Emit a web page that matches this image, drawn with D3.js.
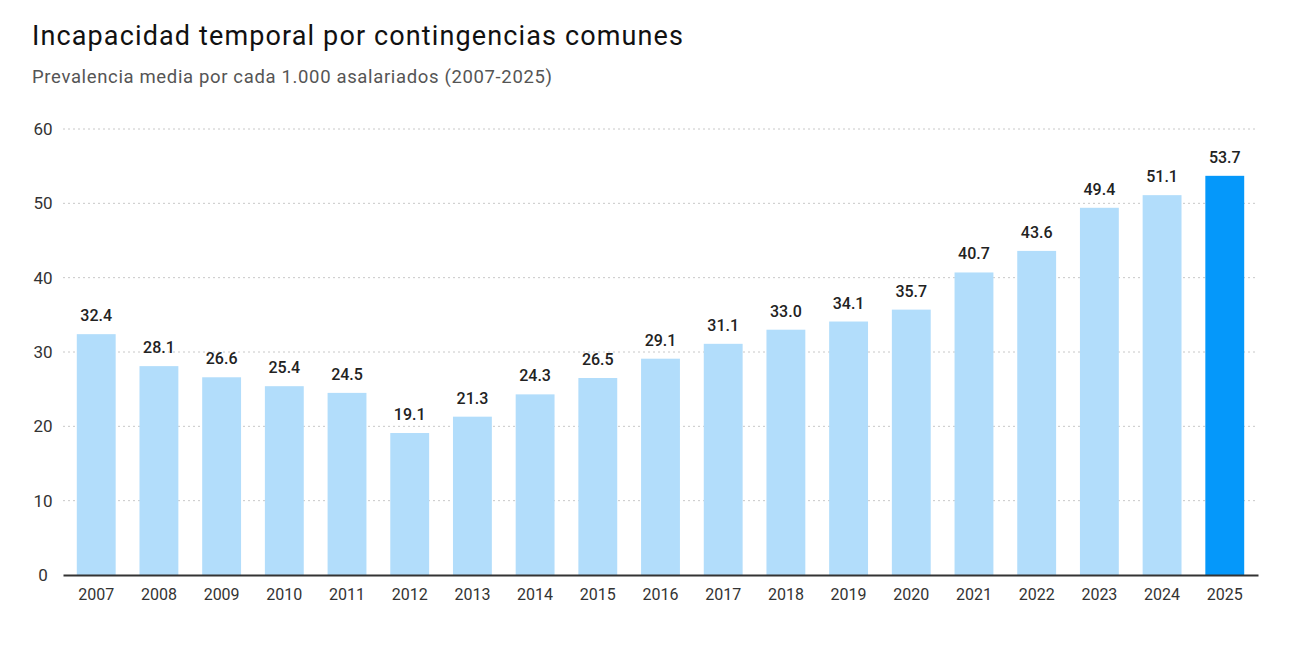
<!DOCTYPE html>
<html>
<head>
<meta charset="utf-8">
<script src="https://cdn.jsdelivr.net/npm/d3@7"></script>
<style>
  body { margin: 0; background: #fff; }
  svg { display: block; font-family: Roboto, "Noto Sans", sans-serif; }
</style>
</head>
<body>
<div id="container"></div>
<script>
"use strict";

const years = ["2007", "2008", "2009", "2010", "2011", "2012", "2013", "2014", "2015", "2016",
  "2017", "2018", "2019", "2020", "2021", "2022", "2023", "2024", "2025"];
const values = [32.4, 28.1, 26.6, 25.4, 24.5, 19.1, 21.3, 24.3, 26.5, 29.1,
  31.1, 33.0, 34.1, 35.7, 40.7, 43.6, 49.4, 51.1, 53.7];
const yTicks = [0, 10, 20, 30, 40, 50, 60];
const highlightYear = "2025";

const title = "Incapacidad temporal por contingencias comunes";
const subtitle = "Prevalencia media por cada 1.000 asalariados (2007-2025)";

const width = 1289;
const height = 647;
const margin = { top: 129, right: 31, bottom: 72, left: 63 };

const data = years.map((y, i) => ({ key: y, value: values[i] }));

const svg = d3.create("svg").attr("width", width).attr("height", height);

const x = d3.scaleBand()
  .domain(years)
  .range([margin.left, width - margin.right])
  .paddingInner(0.38)
  .paddingOuter(0.22);

const y = d3.scaleLinear()
  .domain([0, 60])
  .range([height - margin.bottom, margin.top]);

// Title and subtitle. The original font is wider than Roboto, so stretch a little.
svg.append("text")
  .attr("x", 32)
  .attr("y", 45)
  .attr("textLength", 651)
  .attr("lengthAdjust", "spacing")
  .style("font-size", "27px")
  .style("fill", "#111")
  .text(title);

svg.append("text")
  .attr("x", 32)
  .attr("y", 83)
  .attr("textLength", 520)
  .attr("lengthAdjust", "spacing")
  .style("font-size", "18.5px")
  .style("fill", "#555")
  .text(subtitle);

// Grid lines.
svg.append("g")
  .selectAll("line")
  .data(yTicks.filter((d) => d !== 0))
  .join("line")
  .attr("x1", margin.left)
  .attr("x2", width - margin.right)
  .attr("y1", (d) => y(d))
  .attr("y2", (d) => y(d))
  .attr("stroke", "#c8c8c8")
  .attr("stroke-width", 1)
  .attr("stroke-dasharray", "2,3");

// Y labels.
svg.append("g")
  .selectAll("text")
  .data(yTicks)
  .join("text")
  .attr("x", 43)
  .attr("y", (d) => y(d))
  .attr("dy", "0.35em")
  .attr("text-anchor", "middle")
  .style("font-size", "17px")
  .style("fill", "#333")
  .text((d) => d);

// Bars.
svg.append("g")
  .selectAll("rect")
  .data(data)
  .join("rect")
  .attr("x", (d) => x(d.key))
  .attr("y", (d) => y(d.value))
  .attr("width", x.bandwidth())
  .attr("height", (d) => y(0) - y(d.value))
  .attr("fill", (d) => (d.key === highlightYear ? "#0598fa" : "#b2ddfb"));

// Value labels.
svg.append("g")
  .selectAll("text")
  .data(data)
  .join("text")
  .attr("x", (d) => x(d.key) + x.bandwidth() / 2)
  .attr("y", (d) => y(d.value) - 13)
  .attr("text-anchor", "middle")
  .style("font-size", "16px")
  .style("font-weight", "500")
  .style("fill", "#222")
  .text((d) => d.value.toFixed(1));

// X axis.
const xAxis = svg.append("g")
  .attr("transform", `translate(0, ${y(0)})`)
  .call(d3.axisBottom(x).tickSize(0).tickSizeOuter(0).tickPadding(14));
xAxis.select(".domain").attr("stroke", "#333").attr("stroke-width", 2);
xAxis.selectAll("text")
  .style("font-family", "Roboto, 'Noto Sans', sans-serif")
  .style("font-size", "16px")
  .style("fill", "#333");

document.getElementById("container").append(svg.node());
</script>
</body>
</html>
